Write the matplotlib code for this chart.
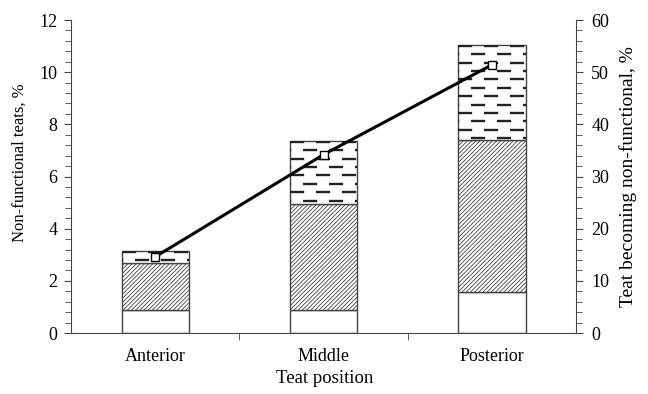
import matplotlib
matplotlib.use("Agg")
import matplotlib.pyplot as plt
import numpy as np
from matplotlib.ticker import MultipleLocator, FixedLocator

categories = ["Anterior", "Middle", "Posterior"]
seg_white = [0.87, 0.87, 1.58]      # lower segment
seg_diag = [1.80, 4.06, 5.81]       # middle (diagonal hatch) segment
seg_dash = [0.49, 2.45, 3.67]       # top (dashed) segment
becoming = [14.6, 34.2, 51.4]       # right axis line, %

plt.rcParams['font.family'] = ['Liberation Serif', 'DejaVu Serif']
plt.rcParams['hatch.linewidth'] = 0.6
plt.rcParams['hatch.color'] = '#555555'

fig = plt.figure(figsize=(6.48, 3.94), dpi=100)
ax = fig.add_axes([0.1096, 0.1548, 0.7793, 0.7944])
x = np.arange(len(categories))
w = 0.4
edge = '#444444'

ax.bar(x, seg_white, w, color='white', edgecolor=edge, linewidth=1.0, zorder=2)
b2 = np.array(seg_white)
ax.bar(x, seg_diag, w, bottom=b2, color='white', edgecolor=edge, hatch='////////', linewidth=1.0, zorder=2)
b3 = b2 + np.array(seg_diag)
bars3 = ax.bar(x, seg_dash, w, bottom=b3, color='white', edgecolor=edge, linewidth=1.0, zorder=2)

# dashed fill pattern for top segments
for i, p in enumerate(bars3):
    top = b3[i] + seg_dash[i]
    yy = top - 0.06
    k = 0
    while yy > b3[i] - 0.05:
        off = 0 if k % 2 == 0 else 5.5
        ln, = ax.plot([x[i] - w / 2, x[i] + w / 2], [yy, yy], color='#222222',
                      linewidth=1.7, linestyle=(off, (6.0, 5.0)), zorder=3,
                      solid_capstyle='butt', dash_capstyle='butt')
        ln.set_clip_path(p)
        yy -= 0.32
        k += 1

ax.set_xlim(-0.5, 2.5)
ax.set_ylim(0, 12)
ax.yaxis.set_major_locator(MultipleLocator(2))
ax.yaxis.set_minor_locator(MultipleLocator(0.4))
ax.set_xticks(x)
ax.set_xticklabels(categories)
ax.xaxis.set_minor_locator(FixedLocator([0.5, 1.5]))
ax.tick_params(axis='x', which='major', length=0, labelsize=13, pad=11)
ax.tick_params(axis='x', which='minor', length=5, direction='out', color='#444444')
ax.tick_params(axis='y', which='major', length=5, direction='out', labelsize=13, pad=5, color='#444444')
ax.tick_params(axis='y', which='minor', length=4, direction='out', color='#444444')
ax.spines['top'].set_visible(False)
ax.spines['right'].set_visible(False)
for s in ['left', 'bottom']:
    ax.spines[s].set_color('#444444')
ax.set_ylabel("Non-functional teats, %", fontsize=12)
ax.yaxis.set_label_coords(-0.101, 0.545)
ax.set_xlabel("Teat position", fontsize=13.5)
ax.xaxis.set_label_coords(0.503, -0.144)
ax.xaxis.label.set_verticalalignment('center')
ax.yaxis.label.set_verticalalignment('center')

ax2 = ax.twinx()
ax2.set_ylim(0, 60)
ax2.yaxis.set_major_locator(MultipleLocator(10))
ax2.yaxis.set_minor_locator(MultipleLocator(2))
ax2.tick_params(axis='y', which='major', length=5, direction='out', labelsize=13, pad=6, color='#444444')
ax2.tick_params(axis='y', which='minor', length=4, direction='out', color='#444444')
ax2.spines['top'].set_visible(False)
ax2.spines['left'].set_visible(False)
ax2.spines['bottom'].set_visible(False)
ax2.spines['right'].set_color('#444444')
ax2.plot(x, becoming, color='black', linewidth=2.2, marker='s', markersize=6,
         markerfacecolor='white', markeredgecolor='black', markeredgewidth=1.0, zorder=5)
ax2.set_ylabel("Teat becoming non-functional, %", fontsize=14)
ax2.yaxis.set_label_coords(1.103, 0.5)
ax2.yaxis.label.set_verticalalignment('center')

fig.savefig("out.png", dpi=100)
